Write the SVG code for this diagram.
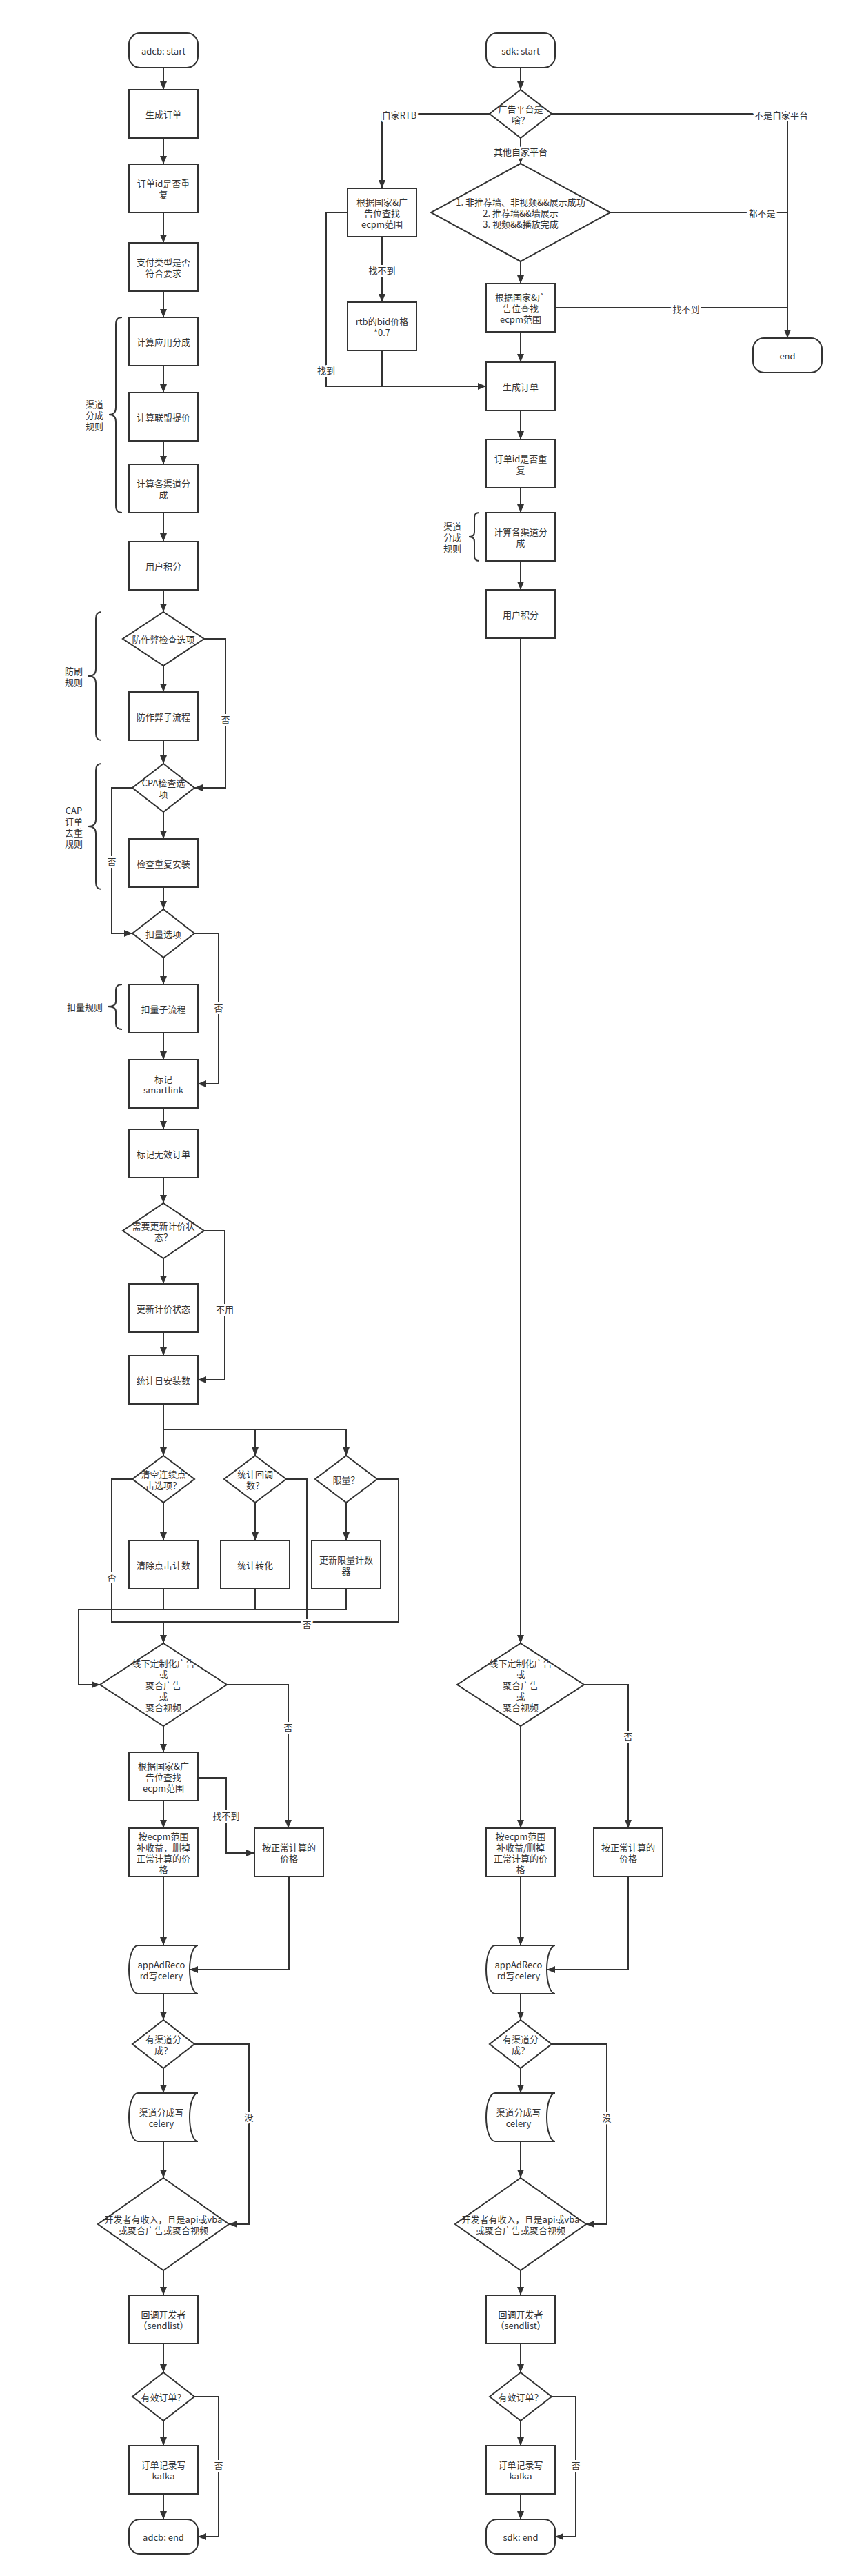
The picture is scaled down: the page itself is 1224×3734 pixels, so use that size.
<svg xmlns="http://www.w3.org/2000/svg" width="1224" height="3734" viewBox="0 0 1224 3734">
<style>
.b{fill:#fff;stroke:#333;stroke-width:2}
.l{fill:none;stroke:#333;stroke-width:2}
.a{marker-end:url(#ah)}
.br{fill:none;stroke:#333;stroke-width:2}
text{font-family:"Noto Sans CJK SC","Noto Sans",sans-serif;font-size:13px;fill:#333;text-anchor:middle;dominant-baseline:central}
.lb{stroke:#fff;stroke-width:6px;paint-order:stroke;stroke-linejoin:round}
</style>
<defs>
<marker id="ah" markerUnits="userSpaceOnUse" markerWidth="12" markerHeight="10" refX="12" refY="5" orient="auto"><path d="M0,0 L12,5 L0,10 z" fill="#333"/></marker>
</defs>
<rect width="1224" height="3734" fill="#fff"/>

<g id="connectors">
<path class="l a" d="M237,98 V130"/>
<path class="l a" d="M237,200 V238"/>
<path class="l a" d="M237,308 V352"/>
<path class="l a" d="M237,422 V460"/>
<path class="l a" d="M237,530 V569"/>
<path class="l a" d="M237,639 V673"/>
<path class="l a" d="M237,743 V785"/>
<path class="l a" d="M237,855 V887"/>
<path class="l a" d="M237,965 V1003"/>
<path class="l a" d="M296,926 H327 V1142 H282"/>
<path class="l a" d="M237,1073 V1107"/>
<path class="l a" d="M237,1177 V1216"/>
<path class="l a" d="M192,1142 H162 V1353 H192"/>
<path class="l a" d="M237,1286 V1318"/>
<path class="l a" d="M237,1388 V1427"/>
<path class="l a" d="M282,1353 H317 V1571 H287"/>
<path class="l a" d="M237,1497 V1536"/>
<path class="l a" d="M237,1606 V1637"/>
<path class="l a" d="M237,1707 V1744"/>
<path class="l a" d="M237,1824 V1861"/>
<path class="l a" d="M296,1784 H326 V2000 H287"/>
<path class="l a" d="M237,1931 V1965"/>
<path class="l a" d="M237,2035 V2110"/>
<path class="l a" d="M237,2072 H502 V2110"/>
<path class="l a" d="M370,2072 V2110"/>
<path class="l a" d="M237,2178 V2233"/>
<path class="l a" d="M370,2178 V2233"/>
<path class="l a" d="M502,2178 V2233"/>
<path class="l" d="M237,2303 V2333"/>
<path class="l" d="M370,2303 V2333"/>
<path class="l a" d="M502,2303 V2333 H114 V2442 H145"/>
<path class="l" d="M192,2144 H162 V2351 H578"/>
<path class="l" d="M415,2144 H445 V2351"/>
<path class="l" d="M547,2144 H578 V2351"/>
<path class="l a" d="M237,2351 V2382"/>
<path class="l a" d="M237,2502 V2540"/>
<path class="l a" d="M329,2442 H418 V2650"/>
<path class="l a" d="M237,2610 V2650"/>
<path class="l a" d="M287,2577 H328 V2686 H369"/>
<path class="l a" d="M237,2720 V2820"/>
<path class="l a" d="M419,2720 V2855 H275"/>
<path class="l a" d="M237,2890 V2928"/>
<path class="l a" d="M237,2998 V3034"/>
<path class="l a" d="M282,2963 H361 V3224 H332"/>
<path class="l a" d="M237,3104 V3157"/>
<path class="l a" d="M237,3291 V3327"/>
<path class="l a" d="M237,3397 V3439"/>
<path class="l a" d="M237,3509 V3545"/>
<path class="l a" d="M237,3615 V3652"/>
<path class="l a" d="M282,3474 H317 V3677 H287"/>

<path class="l a" d="M755,98 V130"/>
<path class="l a" d="M710,165 H554 V273"/>
<path class="l a" d="M800,165 H1142 V490"/>
<path class="l a" d="M755,200 V237"/>
<path class="l" d="M885,308 H1142"/>
<path class="l a" d="M755,379 V411"/>
<path class="l" d="M805,446 H1142"/>
<path class="l a" d="M755,481 V525"/>
<path class="l a" d="M554,343 V438"/>
<path class="l" d="M554,508 V560"/>
<path class="l a" d="M504,308 H473 V560 H705"/>
<path class="l a" d="M755,595 V637"/>
<path class="l a" d="M755,707 V743"/>
<path class="l a" d="M755,813 V855"/>
<path class="l a" d="M755,925 V2382"/>
<path class="l a" d="M755,2502 V2650"/>
<path class="l a" d="M847,2442 H911 V2650"/>
<path class="l a" d="M755,2720 V2820"/>
<path class="l a" d="M911,2720 V2855 H793"/>
<path class="l a" d="M755,2890 V2928"/>
<path class="l a" d="M755,2998 V3034"/>
<path class="l a" d="M800,2963 H880 V3224 H850"/>
<path class="l a" d="M755,3104 V3157"/>
<path class="l a" d="M755,3291 V3327"/>
<path class="l a" d="M755,3397 V3439"/>
<path class="l a" d="M755,3509 V3545"/>
<path class="l a" d="M755,3615 V3652"/>
<path class="l a" d="M800,3474 H835 V3677 H805"/>

<g id="edge-labels">
<text class="lb" x="327" y="1042">否</text>
<text class="lb" x="162" y="1248">否</text>
<text class="lb" x="317" y="1460">否</text>
<text class="lb" x="326" y="1897">不用</text>
<text class="lb" x="162" y="2285">否</text>
<text class="lb" x="445" y="2354">否</text>
<text class="lb" x="418" y="2503">否</text>
<text class="lb" x="328" y="2631">找不到</text>
<text class="lb" x="361" y="3068">没</text>
<text class="lb" x="317" y="3573">否</text>
<text class="lb" x="579" y="166">自家RTB</text>
<text class="lb" x="1133" y="166">不是自家平台</text>
<text class="lb" x="755" y="219">其他自家平台</text>
<text class="lb" x="1105" y="308">都不是</text>
<text class="lb" x="995" y="447">找不到</text>
<text class="lb" x="554" y="391">找不到</text>
<text class="lb" x="473" y="536">找到</text>
<text class="lb" x="911" y="2516">否</text>
<text class="lb" x="880" y="3069">没</text>
<text class="lb" x="835" y="3573">否</text>
</g>
</g>

<g id="braces">
<path class="br" d="M177,460 Q168,460 168,470 V591 Q168,601 158,601 Q168,601 168,611 V733 Q168,743 177,743"/>
<text x="137" y="585">渠道</text><text x="137" y="601">分成</text><text x="137" y="617">规则</text>
<path class="br" d="M695,743 Q688,743 688,750 V771 Q688,778 680,778 Q688,778 688,785 V806 Q688,813 695,813"/>
<text x="656" y="762">渠道</text><text x="656" y="778">分成</text><text x="656" y="794">规则</text>
<path class="br" d="M147,887 Q139,887 139,897 V970 Q139,980 128,980 Q139,980 139,990 V1063 Q139,1073 147,1073"/>
<text x="107" y="972">防刷</text><text x="107" y="988">规则</text>
<path class="br" d="M147,1107 Q139,1107 139,1117 V1188 Q139,1198 128,1198 Q139,1198 139,1208 V1279 Q139,1289 147,1289"/>
<text x="107" y="1174">CAP</text><text x="107" y="1190">订单</text><text x="107" y="1206">去重</text><text x="107" y="1222">规则</text>
<path class="br" d="M177,1427 Q168,1427 168,1435 V1452 Q168,1459 156,1459 Q168,1459 168,1466 V1484 Q168,1492 177,1492"/>
<text x="123" y="1459">扣量规则</text>
</g>

<g id="adcb-start"><rect class="b" x="187" y="48" width="100" height="50" rx="16"/><text x="237" y="73">adcb: start</text></g>
<g id="a-gen"><rect class="b" x="187" y="130" width="100" height="70"/><text x="237" y="165">生成订单</text></g>
<g id="a-dup"><rect class="b" x="187" y="238" width="100" height="70"/><text x="237" y="265">订单id是否重</text><text x="237" y="281">复</text></g>
<g id="a-pay"><rect class="b" x="187" y="352" width="100" height="70"/><text x="237" y="379">支付类型是否</text><text x="237" y="395">符合要求</text></g>
<g id="a-app"><rect class="b" x="187" y="460" width="100" height="70"/><text x="237" y="495">计算应用分成</text></g>
<g id="a-union"><rect class="b" x="187" y="569" width="100" height="70"/><text x="237" y="604">计算联盟提价</text></g>
<g id="a-chan"><rect class="b" x="187" y="673" width="100" height="70"/><text x="237" y="700">计算各渠道分</text><text x="237" y="716">成</text></g>
<g id="a-points"><rect class="b" x="187" y="785" width="100" height="70"/><text x="237" y="820">用户积分</text></g>
<g id="a-fraud-q"><polygon class="b" points="237,887 296,926 237,965 178,926"/><text x="237" y="926">防作弊检查选项</text></g>
<g id="a-fraud"><rect class="b" x="187" y="1003" width="100" height="70"/><text x="237" y="1038">防作弊子流程</text></g>
<g id="a-cpa-q"><polygon class="b" points="237,1107 282,1142 237,1177 192,1142"/><text x="237" y="1134">CPA检查选</text><text x="237" y="1150">项</text></g>
<g id="a-reinstall"><rect class="b" x="187" y="1216" width="100" height="70"/><text x="237" y="1251">检查重复安装</text></g>
<g id="a-deduct-q"><polygon class="b" points="237,1318 282,1353 237,1388 192,1353"/><text x="237" y="1353">扣量选项</text></g>
<g id="a-deduct"><rect class="b" x="187" y="1427" width="100" height="70"/><text x="237" y="1462">扣量子流程</text></g>
<g id="a-smart"><rect class="b" x="187" y="1536" width="100" height="70"/><text x="237" y="1563">标记</text><text x="237" y="1579">smartlink</text></g>
<g id="a-invalid"><rect class="b" x="187" y="1637" width="100" height="70"/><text x="237" y="1672">标记无效订单</text></g>
<g id="a-price-q"><polygon class="b" points="237,1744 296,1784 237,1824 178,1784"/><text x="237" y="1776">需要更新计价状</text><text x="237" y="1792">态？</text></g>
<g id="a-price"><rect class="b" x="187" y="1861" width="100" height="70"/><text x="237" y="1896">更新计价状态</text></g>
<g id="a-daily"><rect class="b" x="187" y="1965" width="100" height="70"/><text x="237" y="2000">统计日安装数</text></g>
<g id="a-click-q"><polygon class="b" points="237,2110 282,2144 237,2178 192,2144"/><text x="237" y="2136">清空连续点</text><text x="237" y="2152">击选项？</text></g>
<g id="a-cb-q"><polygon class="b" points="370,2110 415,2144 370,2178 325,2144"/><text x="370" y="2136">统计回调</text><text x="370" y="2152">数？</text></g>
<g id="a-limit-q"><polygon class="b" points="502,2110 547,2144 502,2178 457,2144"/><text x="502" y="2144">限量？</text></g>
<g id="a-click"><rect class="b" x="187" y="2233" width="100" height="70"/><text x="237" y="2268">清除点击计数</text></g>
<g id="a-conv"><rect class="b" x="320" y="2233" width="100" height="70"/><text x="370" y="2268">统计转化</text></g>
<g id="a-limit"><rect class="b" x="452" y="2233" width="100" height="70"/><text x="502" y="2260">更新限量计数</text><text x="502" y="2276">器</text></g>
<g id="a-agg-q"><polygon class="b" points="237,2382 329,2442 237,2502 145,2442"/><text x="237" y="2410">线下定制化广告</text><text x="237" y="2426">或</text><text x="237" y="2442">聚合广告</text><text x="237" y="2458">或</text><text x="237" y="2474">聚合视频</text></g>
<g id="a-ecpm"><rect class="b" x="187" y="2540" width="100" height="70"/><text x="237" y="2559">根据国家&amp;广</text><text x="237" y="2575">告位查找</text><text x="237" y="2591">ecpm范围</text></g>
<g id="a-fill"><rect class="b" x="187" y="2650" width="100" height="70"/><text x="237" y="2661">按ecpm范围</text><text x="237" y="2677">补收益，删掉</text><text x="237" y="2693">正常计算的价</text><text x="237" y="2709">格</text></g>
<g id="a-normal"><rect class="b" x="369" y="2650" width="100" height="70"/><text x="419" y="2677">按正常计算的</text><text x="419" y="2693">价格</text></g>
<g id="a-record"><path class="b" d="M200,2820 H287 A12 35 0 0 0 287,2890 H200 A13 35 0 0 1 200,2820 Z"/><text x="234" y="2847">appAdReco</text><text x="234" y="2863">rd写celery</text></g>
<g id="a-share-q"><polygon class="b" points="237,2928 282,2963 237,2998 192,2963"/><text x="237" y="2955">有渠道分</text><text x="237" y="2971">成？</text></g>
<g id="a-share"><path class="b" d="M200,3034 H287 A12 35 0 0 0 287,3104 H200 A13 35 0 0 1 200,3034 Z"/><text x="234" y="3061">渠道分成写</text><text x="234" y="3077">celery</text></g>
<g id="a-dev-q"><polygon class="b" points="237,3157 332,3224 237,3291 142,3224"/><text x="237" y="3216">开发者有收入，且是api或vba</text><text x="237" y="3232">或聚合广告或聚合视频</text></g>
<g id="a-callback"><rect class="b" x="187" y="3327" width="100" height="70"/><text x="237" y="3354">回调开发者</text><text x="237" y="3370">（sendlist）</text></g>
<g id="a-valid-q"><polygon class="b" points="237,3439 282,3474 237,3509 192,3474"/><text x="237" y="3474">有效订单？</text></g>
<g id="a-kafka"><rect class="b" x="187" y="3545" width="100" height="70"/><text x="237" y="3572">订单记录写</text><text x="237" y="3588">kafka</text></g>
<g id="adcb-end"><rect class="b" x="187" y="3652" width="100" height="50" rx="16"/><text x="237" y="3677">adcb: end</text></g>

<g id="sdk-start"><rect class="b" x="705" y="48" width="100" height="50" rx="16"/><text x="755" y="73">sdk: start</text></g>
<g id="s-platform-q"><polygon class="b" points="755,130 800,165 755,200 710,165"/><text x="755" y="157">广告平台是</text><text x="755" y="173">啥？</text></g>
<g id="s-rtb-ecpm"><rect class="b" x="504" y="273" width="100" height="70"/><text x="554" y="292">根据国家&amp;广</text><text x="554" y="308">告位查找</text><text x="554" y="324">ecpm范围</text></g>
<g id="s-rtb-bid"><rect class="b" x="504" y="438" width="100" height="70"/><text x="554" y="465">rtb的bid价格</text><text x="554" y="481">*0.7</text></g>
<g id="s-cond-q"><polygon class="b" points="755,237 885,308 755,379 625,308"/><text x="755" y="292">1. 非推荐墙、非视频&amp;&amp;展示成功</text><text x="755" y="308">2. 推荐墙&amp;&amp;墙展示</text><text x="755" y="324">3. 视频&amp;&amp;播放完成</text></g>
<g id="s-ecpm"><rect class="b" x="705" y="411" width="100" height="70"/><text x="755" y="430">根据国家&amp;广</text><text x="755" y="446">告位查找</text><text x="755" y="462">ecpm范围</text></g>
<g id="s-end"><rect class="b" x="1092" y="490" width="100" height="50" rx="16"/><text x="1142" y="515">end</text></g>
<g id="s-gen"><rect class="b" x="705" y="525" width="100" height="70"/><text x="755" y="560">生成订单</text></g>
<g id="s-dup"><rect class="b" x="705" y="637" width="100" height="70"/><text x="755" y="664">订单id是否重</text><text x="755" y="680">复</text></g>
<g id="s-chan"><rect class="b" x="705" y="743" width="100" height="70"/><text x="755" y="770">计算各渠道分</text><text x="755" y="786">成</text></g>
<g id="s-points"><rect class="b" x="705" y="855" width="100" height="70"/><text x="755" y="890">用户积分</text></g>
<g id="s-agg-q"><polygon class="b" points="755,2382 847,2442 755,2502 663,2442"/><text x="755" y="2410">线下定制化广告</text><text x="755" y="2426">或</text><text x="755" y="2442">聚合广告</text><text x="755" y="2458">或</text><text x="755" y="2474">聚合视频</text></g>
<g id="s-fill"><rect class="b" x="705" y="2650" width="100" height="70"/><text x="755" y="2661">按ecpm范围</text><text x="755" y="2677">补收益/删掉</text><text x="755" y="2693">正常计算的价</text><text x="755" y="2709">格</text></g>
<g id="s-normal"><rect class="b" x="861" y="2650" width="100" height="70"/><text x="911" y="2677">按正常计算的</text><text x="911" y="2693">价格</text></g>
<g id="s-record"><path class="b" d="M718,2820 H805 A12 35 0 0 0 805,2890 H718 A13 35 0 0 1 718,2820 Z"/><text x="752" y="2847">appAdReco</text><text x="752" y="2863">rd写celery</text></g>
<g id="s-share-q"><polygon class="b" points="755,2928 800,2963 755,2998 710,2963"/><text x="755" y="2955">有渠道分</text><text x="755" y="2971">成？</text></g>
<g id="s-share"><path class="b" d="M718,3034 H805 A12 35 0 0 0 805,3104 H718 A13 35 0 0 1 718,3034 Z"/><text x="752" y="3061">渠道分成写</text><text x="752" y="3077">celery</text></g>
<g id="s-dev-q"><polygon class="b" points="755,3157 850,3224 755,3291 660,3224"/><text x="755" y="3216">开发者有收入，且是api或vba</text><text x="755" y="3232">或聚合广告或聚合视频</text></g>
<g id="s-callback"><rect class="b" x="705" y="3327" width="100" height="70"/><text x="755" y="3354">回调开发者</text><text x="755" y="3370">（sendlist）</text></g>
<g id="s-valid-q"><polygon class="b" points="755,3439 800,3474 755,3509 710,3474"/><text x="755" y="3474">有效订单？</text></g>
<g id="s-kafka"><rect class="b" x="705" y="3545" width="100" height="70"/><text x="755" y="3572">订单记录写</text><text x="755" y="3588">kafka</text></g>
<g id="sdk-end"><rect class="b" x="705" y="3652" width="100" height="50" rx="16"/><text x="755" y="3677">sdk: end</text></g>
</svg>
